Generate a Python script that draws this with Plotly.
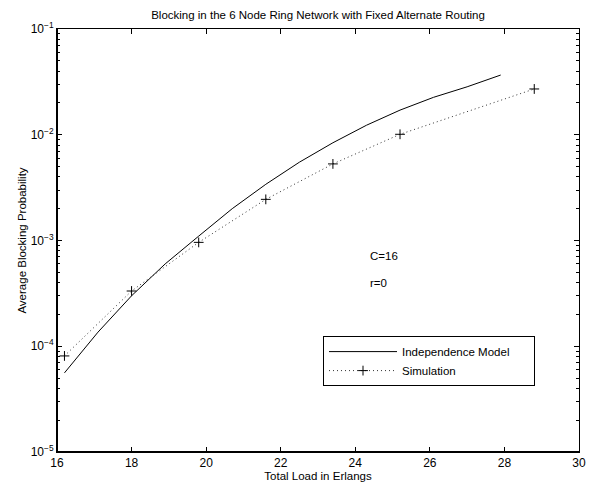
import plotly.graph_objects as go

# Independence model (solid line)
model_load = [16.2, 17.1, 18.0, 18.9, 19.8, 20.7, 21.6, 22.5, 23.4, 24.3, 25.2, 26.1, 27.0, 27.9]
model_block = [5.6e-5, 1.36e-4, 3.0e-4, 6.0e-4, 1.1e-3, 2.0e-3, 3.4e-3, 5.5e-3, 8.4e-3,
               1.23e-2, 1.71e-2, 2.26e-2, 2.84e-2, 3.67e-2]

# Simulation (dotted line with + markers)
sim_load = [16.2, 18.0, 19.8, 21.6, 23.4, 25.2, 28.8]
sim_block = [8.1e-5, 3.33e-4, 9.6e-4, 2.45e-3, 5.3e-3, 1.01e-2, 2.71e-2]

x_ticks = [16, 18, 20, 22, 24, 26, 28, 30]
y_ticks = [1e-5, 1e-4, 1e-3, 1e-2, 1e-1]
y_ticktext = ["10<sup>−5</sup>", "10<sup>−4</sup>", "10<sup>−3</sup>", "10<sup>−2</sup>", "10<sup>−1</sup>"]
y_minor = [m * d for d in [1e-5, 1e-4, 1e-3, 1e-2] for m in range(2, 10)]

FONT = "Liberation Sans, Arial, Helvetica, sans-serif"
FS = 11.5

fig = go.Figure()
fig.add_trace(go.Scatter(
    x=model_load, y=model_block, mode="lines",
    name="Independence Model" + "&nbsp;" * 6,
    line=dict(color="black", width=1)))
fig.add_trace(go.Scatter(
    x=sim_load, y=sim_block, mode="lines+markers", name="Simulation",
    line=dict(color="#333333", width=1, dash="1px,3px"),
    marker=dict(symbol="cross-thin", size=7, line=dict(color="black", width=1), color="black")))

fig.add_annotation(x=0.595, y=0.463, xref="paper", yref="paper", text="C=16", showarrow=False,
                   xanchor="left", yanchor="middle", font=dict(size=FS, color="black", family=FONT))
fig.add_annotation(x=0.595, y=0.400, xref="paper", yref="paper", text="r=0", showarrow=False,
                   xanchor="left", yanchor="middle", font=dict(size=FS, color="black", family=FONT))

# thicker left/bottom axis lines like the original
fig.add_shape(type="line", xref="paper", yref="paper", x0=0, x1=0, y0=0, y1=1,
              line=dict(color="black", width=2))
fig.add_shape(type="line", xref="paper", yref="paper", x0=0, x1=1, y0=0, y1=0,
              line=dict(color="black", width=2))

fig.update_layout(
    width=592, height=490, autosize=False,
    margin=dict(l=57, r=13, t=29, b=38, autoexpand=False),
    paper_bgcolor="white", plot_bgcolor="white",
    font=dict(family=FONT, size=FS, color="black"),
    title=dict(text="Blocking in the 6 Node Ring Network with Fixed Alternate Routing",
               xref="paper", x=0.5, xanchor="center",
               yref="container", y=1 - 14.5 / 490, yanchor="middle",
               font=dict(size=FS, family=FONT, color="black")),
    showlegend=True,
    legend=dict(x=0.5096, y=0.274, xanchor="left", yanchor="top",
                bgcolor="white", bordercolor="black", borderwidth=1,
                font=dict(size=FS, family=FONT, color="black"),
                tracegroupgap=0, itemwidth=68),
)
fig.update_xaxes(
    range=[16, 30], tickvals=x_ticks, ticks="inside", ticklen=5, tickcolor="black",
    showline=True, linecolor="black", linewidth=1, mirror="allticks",
    showgrid=False, zeroline=False, automargin=False,
    title=dict(text="Total Load in Erlangs", standoff=1, font=dict(size=FS, family=FONT)),
    tickfont=dict(size=12, family=FONT))
fig.update_yaxes(
    type="log", range=[-5, -1], tickvals=y_ticks, ticktext=y_ticktext,
    ticks="inside", ticklen=5, tickcolor="black",
    minor=dict(tickvals=y_minor, ticks="inside", ticklen=3, tickcolor="black", showgrid=False),
    showline=True, linecolor="black", linewidth=1, mirror="allticks",
    showgrid=False, zeroline=False, automargin=False,
    title=dict(text="Average Blocking Probability", standoff=1, font=dict(size=FS, family=FONT)),
    tickfont=dict(size=12, family=FONT))

fig.write_html("out.html")
